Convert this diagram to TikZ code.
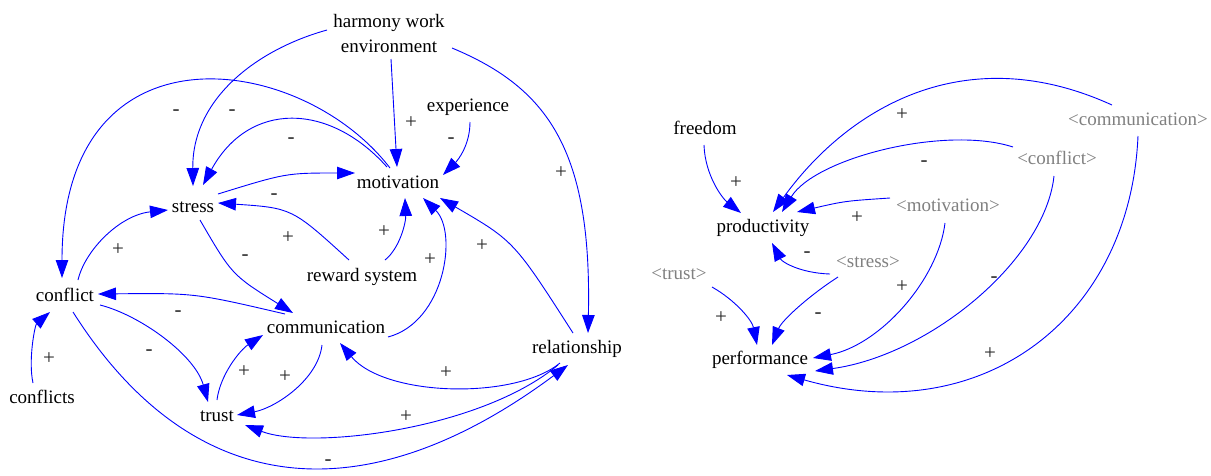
\documentclass[tikz,border=0pt]{standalone}
\usepackage{fontspec}
\setmainfont{Liberation Serif}
\usetikzlibrary{arrows.meta,calc}
\begin{document}
\begin{tikzpicture}[x=1pt,y=-1pt,
  var/.style={font=\fontsize{19}{25}\selectfont, inner sep=0pt, text height=12pt, text depth=4pt},
  gvar/.style={var, text=black!50},
  lbl/.style={font=\fontsize{21}{22}\selectfont, inner sep=0pt, text=black!85},
  lnk/.style={draw=blue, line width=0.9pt, -{Triangle[length=18pt,width=12.5pt]}}]
\useasboundingbox (0,0) rectangle (1211,475);
% variables
\node[font=\fontsize{19}{25}\selectfont, inner sep=0pt, align=center] (hwe) at (389,33) {harmony work\\environment};
\node[var] (exp) at (468,107) {experience};
\node[var] (mot) at (398,184) {motivation};
\node[var] (str) at (193,208) {stress};
\node[var] (con) at (65,297) {conflict};
\node[var] (cfs) at (42,399) {conflicts};
\node[var] (rew) at (362,277) {reward system};
\node[var] (com) at (326,329) {communication};
\node[var] (tru) at (217,417) {trust};
\node[var] (rel) at (577,349) {relationship};
\node[var] (fre) at (705,130) {freedom};
\node[var] (pro) at (763,228) {productivity};
\node[var] (per) at (760,360) {performance};
\node[gvar] (gcom) at (1138,121) {<communication>};
\node[gvar] (gcon) at (1057,160) {<conflict>};
\node[gvar] (gmot) at (948,207) {<motivation>};
\node[gvar] (gstr) at (868,263) {<stress>};
\node[gvar] (gtru) at (679,275) {<trust>};
% links, left part
\draw[lnk] ($(hwe)+(-62,-3)$) .. controls (255,50) and (192,100) .. ($(str)+(0,-22)$);
\draw[lnk] ($(mot)+(-11,-17)$) .. controls (329,102) and (249,101) .. ($(str)+(10,-23)$);
\draw[lnk] ($(mot)+(-8,-16)$) .. controls (301,52) and (62,18) .. ($(con)+(-3,-19)$);
\draw[lnk] ($(hwe)+(2,26)$) -- ($(mot)+(-1,-17)$);
\draw[lnk] ($(exp)+(2,15)$) .. controls (470,145) and (458,160) .. ($(mot)+(45,-9)$);
\draw[lnk] ($(hwe)+(63,15)$) .. controls (548,88) and (592,150) .. ($(rel)+(11,-16)$);
\draw[lnk] ($(str)+(25,-14)$) .. controls (286,173) .. ($(mot)+(-43,-11)$);
\draw[lnk] ($(rew)+(-13,-17)$) .. controls (292,208) .. ($(str)+(25,-5)$);
\draw[lnk] ($(rew)+(23,-17)$) .. controls (400,248) and (406,222) .. ($(mot)+(7,14)$);
\draw[lnk] ($(com)+(62,8)$) .. controls (445,322) and (458,232) .. ($(mot)+(25,14)$);
\draw[lnk] ($(rel)+(-4,-16)$) .. controls (514,241) .. ($(mot)+(42,14)$);
\draw[lnk] ($(con)+(13,-17)$) .. controls (85,250) and (120,215) .. ($(str)+(-25,2)$);
\draw[lnk] ($(str)+(7,12)$) .. controls (232,275) .. ($(com)+(-33,-16)$);
\draw[lnk] ($(com)+(-41,-15)$) .. controls (195,293) .. ($(con)+(33,-3)$);
\draw[lnk] ($(con)+(35,8)$) .. controls (140,315) and (195,355) .. ($(tru)+(-9,-15)$);
\draw[lnk] ($(tru)+(0,-17)$) .. controls (220,375) and (240,350) .. ($(com)+(-63,6)$);
\draw[lnk] ($(com)+(-4,16)$) .. controls (318,380) and (275,408) .. ($(tru)+(20,-2)$);
\draw[lnk] ($(rel)+(-17,14)$) .. controls (515,400) and (385,397) .. ($(com)+(14,14)$);
\draw[lnk] ($(rel)+(-19,16)$) .. controls (480,430) and (310,450) .. ($(tru)+(28,8)$);
\draw[lnk] ($(con)+(8,15)$) .. controls (193,502) and (366,515) .. ($(rel)+(-9,16)$);
\draw[lnk] ($(cfs)+(-9,-16)$) .. controls (28,360) and (35,325) .. ($(con)+(-15,15)$);
% links, right part
\draw[lnk] ($(fre)+(-1,15)$) .. controls (705,175) and (722,198) .. ($(pro)+(-22,-15)$);
\draw[lnk] ($(gcom)+(-26,-16)$) .. controls (965,38) and (848,108) .. ($(pro)+(10,-16)$);
\draw[lnk] ($(gcon)+(-44,-13)$) .. controls (945,125) and (815,158) .. ($(pro)+(19,-16)$);
\draw[lnk] ($(gmot)+(-58,-9)$) .. controls (845,201) .. ($(pro)+(34,-16)$);
\draw[lnk] ($(gstr)+(-38,11)$) .. controls (800,273) and (782,262) .. ($(pro)+(9,15)$);
\draw[lnk] ($(gtru)+(33,12)$) .. controls (735,300) and (752,320) .. ($(per)+(-3,-15)$);
\draw[lnk] ($(gstr)+(-30,14)$) .. controls (810,295) and (782,320) .. ($(per)+(12,-15)$);
\draw[lnk] ($(gmot)+(-3,16)$) .. controls (938,280) and (880,345) .. ($(per)+(53,-2)$);
\draw[lnk] ($(gcon)+(-3,16)$) .. controls (1045,260) and (930,355) .. ($(per)+(55,11)$);
\draw[lnk] ($(gcom)+(0,15)$) .. controls (1130,320) and (980,430) .. ($(per)+(27,15)$);
% polarity labels
\node[lbl] (l1) at (176,113) {-};
\node[lbl] (l2) at (232,113) {-};
\node[lbl] (l3) at (291,141) {-};
\node[lbl] (l4) at (411,123) {+};
\node[lbl] (l5) at (451,141) {-};
\node[lbl] (l6) at (561,173) {+};
\node[lbl] (l7) at (274,197) {-};
\node[lbl] (l8) at (288,238) {+};
\node[lbl] (l9) at (384,232) {+};
\node[lbl] (l10) at (430,260) {+};
\node[lbl] (l11) at (482,246) {+};
\node[lbl] (l12) at (118,250) {+};
\node[lbl] (l13) at (245,258) {-};
\node[lbl] (l14) at (178,314) {-};
\node[lbl] (l15) at (149,353) {-};
\node[lbl] (l16) at (244,372) {+};
\node[lbl] (l17) at (285,377) {+};
\node[lbl] (l18) at (446,373) {+};
\node[lbl] (l19) at (406,417) {+};
\node[lbl] (l20) at (328,463) {-};
\node[lbl] (l21) at (49,359) {+};
\node[lbl] (r1) at (736,183) {+};
\node[lbl] (r2) at (902,115) {+};
\node[lbl] (r3) at (924,164) {-};
\node[lbl] (r4) at (857,218) {+};
\node[lbl] (r5) at (807,255) {-};
\node[lbl] (r6) at (721,318) {+};
\node[lbl] (r7) at (818,316) {-};
\node[lbl] (r8) at (902,287) {+};
\node[lbl] (r9) at (994,280) {-};
\node[lbl] (r10) at (990,354) {+};
\end{tikzpicture}
\end{document}
